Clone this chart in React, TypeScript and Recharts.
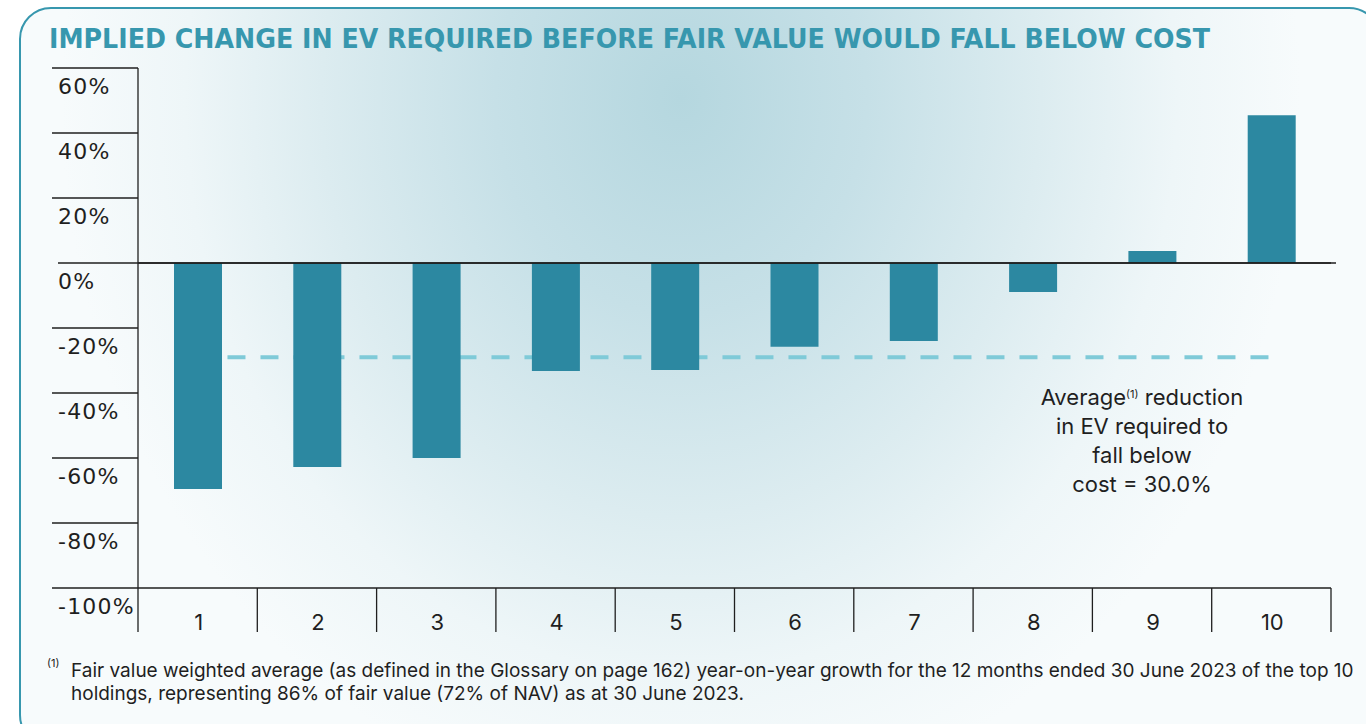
import React from "react"
import { ComposedChart, Bar, XAxis, YAxis, ReferenceLine } from "recharts"

// holdings ranked 1..10 and the implied change in EV (%) before fair value falls below cost
const holdings = ["1", "2", "3", "4", "5", "6", "7", "8", "9", "10"]
const evChange = [-69.5, -62.8, -60, -33.2, -32.9, -25.8, -24, -8.9, 3.7, 45.5]
const yTicks = [60, 40, 20, 0, -20, -40, -60, -80, -100]
const averageReduction = -29
// where the dashed average line starts / ends, in category widths from the axis
const averageSpan = [0.75, 9.6]

const data = holdings.map((h, i) => ({ holding: h, change: evChange[i] }))

const W = 1366
const H = 724
const PLOT_LEFT = 138
const PLOT_RIGHT = 1331
const PLOT_TOP = 68
const PLOT_BOTTOM = 588
const HALF_BAND = (PLOT_RIGHT - PLOT_LEFT) / holdings.length / 2
const INK = "#1f1f1f"
const TEAL = "#3797ae"

const YTick = (props: any) => {
  const { y, payload } = props
  const zero = payload.value === 0
  return (
    <g>
      <line x1={zero ? 58 : 52} x2={zero ? 1336 : PLOT_LEFT} y1={y} y2={y} stroke={INK} strokeWidth={1.3} />
      <text x={58} y={y + 26} fontSize={22} fill={INK} fontFamily="DejaVu Sans" letterSpacing={1.2}>
        {payload.value}%
      </text>
    </g>
  )
}

const XTick = (props: any) => {
  const { x, payload, index } = props
  const last = index === holdings.length - 1
  return (
    <g>
      <line x1={x - HALF_BAND} x2={x - HALF_BAND} y1={PLOT_BOTTOM} y2={632} stroke={INK} strokeWidth={1.3} />
      {last && <line x1={x + HALF_BAND} x2={x + HALF_BAND} y1={PLOT_BOTTOM} y2={632} stroke={INK} strokeWidth={1.3} />}
      <text x={x + 1} y={630} textAnchor="middle" fontSize={22} fill={INK} fontFamily="Inter">
        {payload.value}
      </text>
    </g>
  )
}

const AverageLine = (props: any) => {
  const { x1, x2, y1 } = props
  const span = x2 - x1
  const n = holdings.length
  return (
    <line
      x1={x1 + (span * averageSpan[0]) / n}
      x2={x1 + (span * averageSpan[1]) / n}
      y1={y1}
      y2={y1}
      stroke="#7fcad8"
      strokeWidth={4}
      strokeDasharray="18 15"
    />
  )
}

export default function App() {
  return (
    <div style={{ position: "absolute", left: 0, top: 0, width: W, height: H, overflow: "hidden", background: "#fff" }}>
      <div
        style={{
          position: "absolute",
          left: 19,
          top: 7,
          width: 1362,
          height: 740,
          boxSizing: "border-box",
          border: `2.5px solid ${TEAL}`,
          borderRadius: 32,
          background:
            "radial-gradient(ellipse 620px 720px at 660px 90px, #b5d7df 0%, #c6e0e7 30%, #dcecf0 58%, #eef6f8 80%, #f7fbfc 100%)",
        }}
      />
      <svg style={{ position: "absolute", left: 0, top: 0 }} width={W} height={60}>
        <text
          x={49}
          y={48}
          fontSize={26}
          fontWeight={700}
          fill={TEAL}
          fontFamily="DejaVu Sans"
          textLength={1161}
          lengthAdjust="spacingAndGlyphs"
        >
          IMPLIED CHANGE IN EV REQUIRED BEFORE FAIR VALUE WOULD FALL BELOW COST
        </text>
      </svg>
      <div style={{ position: "absolute", left: 0, top: 0 }}>
        <ComposedChart
          width={W}
          height={H}
          data={data}
          margin={{ top: PLOT_TOP, right: W - PLOT_RIGHT, left: 0, bottom: 0 }}
        >
          <XAxis
            dataKey="holding"
            height={H - PLOT_BOTTOM}
            axisLine={{ stroke: INK, strokeWidth: 1.3 }}
            tickLine={false}
            tick={<XTick />}
            interval={0}
          />
          <YAxis
            domain={[-100, 60]}
            ticks={yTicks}
            width={PLOT_LEFT}
            axisLine={{ stroke: INK, strokeWidth: 1.3 }}
            tickLine={false}
            tick={<YTick />}
            interval={0}
          />
          <ReferenceLine y={averageReduction} shape={<AverageLine />} zIndex={100} />
          <Bar dataKey="change" fill="#2c88a1" barSize={48} isAnimationActive={false} />
          <ReferenceLine y={0} stroke={INK} strokeWidth={1.3} />
        </ComposedChart>
      </div>
      <div
        style={{
          position: "absolute",
          left: 1032,
          top: 380,
          width: 220,
          textAlign: "center",
          fontFamily: "Inter",
          fontSize: 22,
          lineHeight: "29px",
          color: INK,
        }}
      >
        Average<sup style={{ fontSize: 11, verticalAlign: "7px" }}>(1)</sup> reduction
        <br />
        in EV required to
        <br />
        fall below
        <br />
        cost = 30.0%
      </div>
      <div style={{ position: "absolute", left: 47, top: 656, fontFamily: "Inter", fontSize: 11, color: INK }}>(1)</div>
      <div
        style={{
          position: "absolute",
          left: 71,
          top: 659,
          fontFamily: "Inter",
          fontSize: 19,
          lineHeight: "23px",
          color: INK,
          whiteSpace: "nowrap",
        }}
      >
        Fair value weighted average (as defined in the Glossary on page 162) year-on-year growth for the 12 months ended 30 June 2023 of the top 10
        <br />
        holdings, representing 86% of fair value (72% of NAV) as at 30 June 2023.
      </div>
    </div>
  )
}
